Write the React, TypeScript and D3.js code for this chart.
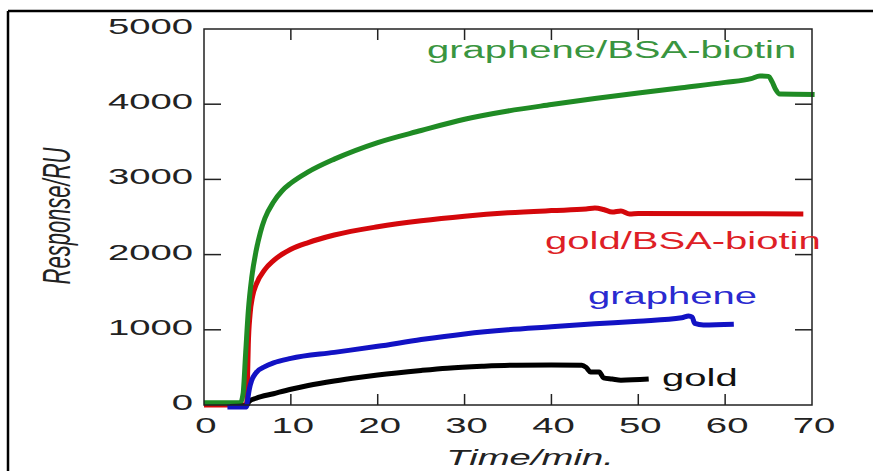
import React, { useEffect, useRef } from 'react';
import * as d3 from 'd3';

// values (time in min, response in RU)
const greenTime = [0, 4.2, 4.5, 4.8, 5.1, 5.5, 6, 6.5, 7, 8, 9, 10, 12, 15, 20, 25, 30, 35, 40, 45, 50, 55, 60, 63, 64, 65, 65.4, 65.8, 66.3, 70.3];
const greenResp = [30, 30, 150, 700, 1250, 1700, 2050, 2300, 2480, 2700, 2850, 2950, 3100, 3270, 3490, 3650, 3800, 3910, 3995, 4075, 4150, 4220, 4290, 4340, 4375, 4370, 4300, 4200, 4135, 4130];

const redTime = [0, 4.9, 5.0, 5.1, 5.3, 5.6, 6, 7, 8, 10, 12, 15, 20, 25, 30, 35, 40, 44, 45, 46, 47, 48, 49, 50, 69];
const redResp = [0, 0, 300, 800, 1200, 1450, 1600, 1800, 1920, 2070, 2160, 2260, 2370, 2450, 2510, 2555, 2585, 2605, 2620, 2600, 2565, 2580, 2540, 2545, 2540];

const blueTime = [2.7, 4.9, 5.0, 5.2, 5.5, 6, 7, 8, 10, 15, 20, 25, 30, 35, 40, 45, 50, 55, 55.8, 56.2, 56.5, 57.5, 61];
const blueResp = [-25, -25, 50, 200, 330, 430, 510, 560, 620, 700, 780, 870, 945, 1000, 1040, 1080, 1115, 1160, 1185, 1170, 1085, 1065, 1075];

const blackTime = [3, 4.9, 5.2, 6, 8, 10, 12, 15, 18, 20, 25, 28, 32, 36, 40, 43.5, 44, 44.5, 45.5, 46, 47, 48, 51.2];
const blackResp = [-20, -10, 50, 90, 150, 210, 260, 320, 370, 400, 460, 490, 515, 530, 532, 530, 500, 440, 440, 360, 345, 330, 345];

const xTicks = [0, 10, 20, 30, 40, 50, 60, 70];
const yTicks = [0, 1000, 2000, 3000, 4000, 5000];

const seriesNames = ['gold/BSA-biotin', 'graphene/BSA-biotin', 'gold', 'graphene'];
const seriesColors = ['#d4070b', '#1f8b24', '#000000', '#1212c4'];
const labelColors = ['#de1f26', '#3a953f', '#111111', '#2a2ad0'];
const labelPos = [[545, 249], [427, 58], [662, 386], [588, 304]];

const FONT = '"Liberation Sans", Arial, Helvetica, sans-serif';
const SX = 1.74; // the original picture is stretched horizontally

const App = () => {
    const svgRef = useRef<SVGSVGElement>(null);

    useEffect(() => {
        const svg = d3.select(svgRef.current);
        svg.selectAll('*').remove();

        const left = 204, right = 812, top = 29, bottom = 405;
        const x = d3.scaleLinear().domain([0, 70]).range([left, right]);
        const y = d3.scaleLinear().domain([0, 5000]).range([bottom, top]);

        // outer frame (runs past the window on right and bottom)
        svg.append('line').attr('x1', 8).attr('x2', 880).attr('y1', 11).attr('y2', 11)
            .attr('stroke', '#000').attr('stroke-width', 2.5);
        svg.append('line').attr('x1', 8).attr('x2', 8).attr('y1', 11).attr('y2', 480)
            .attr('stroke', '#000').attr('stroke-width', 2.5);

        // data lines
        const series = [
            { t: redTime, v: redResp },
            { t: greenTime, v: greenResp },
            { t: blackTime, v: blackResp },
            { t: blueTime, v: blueResp },
        ];
        const line = d3.line<[number, number]>()
            .x(d => x(d[0]))
            .y(d => y(d[1]))
            .curve(d3.curveMonotoneX);

        series.forEach((s, i) => {
            const pts = s.t.map((t, j) => [t, s.v[j]] as [number, number]);
            svg.append('path')
                .attr('d', line(pts))
                .attr('fill', 'none')
                .attr('stroke', seriesColors[i])
                .attr('stroke-width', 5)
                .attr('stroke-linejoin', 'round');
        });

        // plot box
        svg.append('rect')
            .attr('x', left).attr('y', top)
            .attr('width', right - left).attr('height', bottom - top)
            .attr('fill', 'none').attr('stroke', '#222').attr('stroke-width', 1.5);

        // inward ticks on all four sides
        const inner = (arr: number[]) => arr.slice(1, -1);
        inner(xTicks).forEach(t => {
            svg.append('line').attr('x1', x(t)).attr('x2', x(t)).attr('y1', bottom).attr('y2', bottom - 11)
                .attr('stroke', '#222').attr('stroke-width', 1.5);
            svg.append('line').attr('x1', x(t)).attr('x2', x(t)).attr('y1', top).attr('y2', top + 11)
                .attr('stroke', '#222').attr('stroke-width', 1.5);
        });
        inner(yTicks).forEach(v => {
            svg.append('line').attr('x1', left).attr('x2', left + 17).attr('y1', y(v)).attr('y2', y(v))
                .attr('stroke', '#222').attr('stroke-width', 1.5);
            svg.append('line').attr('x1', right).attr('x2', right - 17).attr('y1', y(v)).attr('y2', y(v))
                .attr('stroke', '#222').attr('stroke-width', 1.5);
        });

        // tick labels
        xTicks.forEach(t => {
            svg.append('text')
                .attr('transform', `translate(${x(t) + 2}, 433) scale(${SX}, 1)`)
                .attr('text-anchor', 'middle')
                .attr('font-family', FONT).attr('font-size', 22).attr('fill', '#222')
                .text(t);
        });
        yTicks.forEach(v => {
            svg.append('text')
                .attr('transform', `translate(193, ${y(v) + 5}) scale(${SX}, 1)`)
                .attr('text-anchor', 'end')
                .attr('font-family', FONT).attr('font-size', 22).attr('fill', '#222')
                .text(v);
        });

        // axis titles
        svg.append('text')
            .attr('transform', `translate(530, 465) scale(${SX}, 1)`)
            .attr('text-anchor', 'middle')
            .attr('font-family', FONT).attr('font-size', 22).attr('font-style', 'italic').attr('fill', '#222')
            .text('Time/min.');
        svg.append('text')
            .attr('transform', `translate(70, 216) scale(${SX}, 1) rotate(-90)`)
            .attr('text-anchor', 'middle')
            .attr('font-family', FONT).attr('font-size', 22).attr('font-style', 'italic').attr('fill', '#222')
            .text('Response/RU');

        // series labels
        seriesNames.forEach((name, i) => {
            svg.append('text')
                .attr('transform', `translate(${labelPos[i][0]}, ${labelPos[i][1]}) scale(${SX}, 1)`)
                .attr('font-family', FONT).attr('font-size', 23).attr('fill', labelColors[i])
                .text(name);
        });
    }, []);

    return (
        <svg ref={svgRef} width={873} height={471}
            style={{ position: 'absolute', left: 0, top: 0, background: '#fff' }} />
    );
};

export default App;
